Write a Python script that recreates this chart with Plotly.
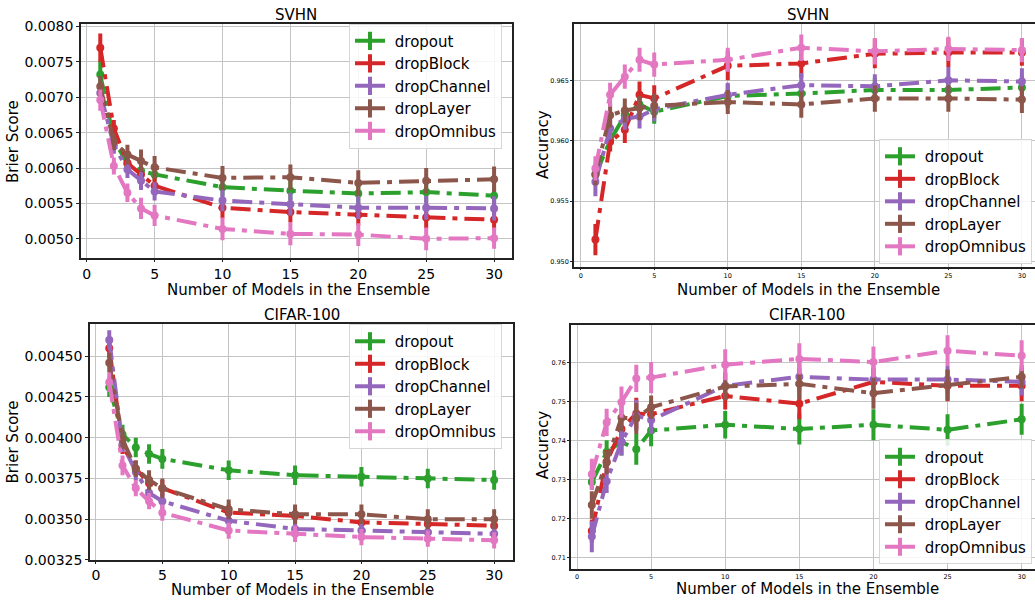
import plotly.graph_objects as go

n_models = [1, 2, 3, 4, 5, 10, 15, 20, 25, 30]
methods = ["dropout", "dropBlock", "dropChannel", "dropLayer", "dropOmnibus"]
colors = ["#2ca02c", "#d62728", "#9467bd", "#8c564b", "#e377c2"]

# SVHN Brier score
svhn_brier = {
    "dropout":     [0.00732, 0.00640, 0.00606, 0.00596, 0.00591, 0.00573, 0.00568, 0.00564, 0.00566, 0.00561],
    "dropBlock":   [0.00770, 0.00656, 0.00607, 0.00591, 0.00575, 0.00544, 0.00538, 0.00534, 0.00530, 0.00527],
    "dropChannel": [0.00706, 0.00632, 0.00598, 0.00582, 0.00567, 0.00554, 0.00549, 0.00544, 0.00544, 0.00543],
    "dropLayer":   [0.00715, 0.00637, 0.00619, 0.00610, 0.00601, 0.00586, 0.00587, 0.00579, 0.00582, 0.00584],
    "dropOmnibus": [0.00696, 0.00603, 0.00565, 0.00543, 0.00533, 0.00514, 0.00507, 0.00506, 0.00500, 0.00501],
}
svhn_brier_err = {
    "dropout":     [0.00020, 0.00010, 0.00008, 0.00010, 0.00010, 0.00013, 0.00014, 0.00014, 0.00014, 0.00013],
    "dropBlock":   [0.00020, 0.00012, 0.00010, 0.00012, 0.00012, 0.00015, 0.00015, 0.00015, 0.00015, 0.00015],
    "dropChannel": [0.00015, 0.00012, 0.00012, 0.00013, 0.00013, 0.00015, 0.00016, 0.00016, 0.00017, 0.00017],
    "dropLayer":   [0.00015, 0.00012, 0.00014, 0.00016, 0.00016, 0.00017, 0.00018, 0.00018, 0.00018, 0.00018],
    "dropOmnibus": [0.00015, 0.00012, 0.00013, 0.00015, 0.00015, 0.00016, 0.00016, 0.00016, 0.00016, 0.00015],
}

# SVHN accuracy
svhn_acc = {
    "dropout":     [0.9572, 0.9600, 0.9621, 0.9630, 0.9624, 0.9637, 0.9639, 0.9642, 0.9642, 0.9644],
    "dropBlock":   [0.9518, 0.9599, 0.9609, 0.9638, 0.9635, 0.9662, 0.9664, 0.9672, 0.9673, 0.9673],
    "dropChannel": [0.9566, 0.9610, 0.9618, 0.9620, 0.9626, 0.9638, 0.9646, 0.9645, 0.9650, 0.9649],
    "dropLayer":   [0.9572, 0.9621, 0.9625, 0.9627, 0.9629, 0.9632, 0.9630, 0.9635, 0.9635, 0.9634],
    "dropOmnibus": [0.9577, 0.9638, 0.9653, 0.9667, 0.9663, 0.9667, 0.9677, 0.9674, 0.9676, 0.9675],
}
svhn_acc_err = {
    "dropout":     [0.0006, 0.0008, 0.0008, 0.0008, 0.0010, 0.0010, 0.0010, 0.0010, 0.0010, 0.0010],
    "dropBlock":   [0.0013, 0.0008, 0.0011, 0.0011, 0.0011, 0.0012, 0.0012, 0.0012, 0.0012, 0.0011],
    "dropChannel": [0.0012, 0.0009, 0.0009, 0.0010, 0.0010, 0.0010, 0.0010, 0.0010, 0.0011, 0.0011],
    "dropLayer":   [0.0009, 0.0010, 0.0010, 0.0010, 0.0010, 0.0010, 0.0011, 0.0011, 0.0011, 0.0011],
    "dropOmnibus": [0.0010, 0.0010, 0.0010, 0.0010, 0.0010, 0.0010, 0.0011, 0.0011, 0.0010, 0.0010],
}

# CIFAR-100 Brier score
cifar_brier = {
    "dropout":     [0.00431, 0.00402, 0.00394, 0.00390, 0.00387, 0.00380, 0.00377, 0.00376, 0.00375, 0.00374],
    "dropBlock":   [0.00455, 0.00395, 0.00381, 0.00372, 0.00369, 0.00354, 0.00352, 0.00348, 0.00347, 0.00346],
    "dropChannel": [0.00460, 0.00396, 0.00379, 0.00366, 0.00361, 0.00349, 0.00344, 0.00343, 0.00342, 0.00341],
    "dropLayer":   [0.00446, 0.00399, 0.00381, 0.00374, 0.00369, 0.00356, 0.00353, 0.00353, 0.00350, 0.00350],
    "dropOmnibus": [0.00434, 0.00383, 0.00369, 0.00361, 0.00354, 0.00343, 0.00341, 0.00339, 0.00338, 0.00337],
}
cifar_brier_err = {
    "dropout":     [0.00006, 0.00006, 0.00006, 0.00006, 0.00006, 0.00006, 0.00006, 0.00006, 0.00006, 0.00006],
    "dropBlock":   [0.00006, 0.00005, 0.00005, 0.00005, 0.00005, 0.00005, 0.00005, 0.00005, 0.00005, 0.00005],
    "dropChannel": [0.00006, 0.00005, 0.00005, 0.00005, 0.00005, 0.00005, 0.00005, 0.00005, 0.00005, 0.00005],
    "dropLayer":   [0.00006, 0.00006, 0.00005, 0.00006, 0.00006, 0.00006, 0.00006, 0.00006, 0.00006, 0.00006],
    "dropOmnibus": [0.00006, 0.00006, 0.00005, 0.00005, 0.00005, 0.00005, 0.00005, 0.00005, 0.00005, 0.00005],
}

# CIFAR-100 accuracy
cifar_acc = {
    "dropout":     [0.7294, 0.7371, 0.7397, 0.7378, 0.7426, 0.7441, 0.7430, 0.7441, 0.7428, 0.7455],
    "dropBlock":   [0.7168, 0.7346, 0.7430, 0.7470, 0.7468, 0.7515, 0.7495, 0.7551, 0.7541, 0.7541],
    "dropChannel": [0.7154, 0.7296, 0.7397, 0.7465, 0.7453, 0.7541, 0.7564, 0.7557, 0.7557, 0.7551],
    "dropLayer":   [0.7235, 0.7344, 0.7459, 0.7457, 0.7486, 0.7539, 0.7546, 0.7522, 0.7543, 0.7564],
    "dropOmnibus": [0.7314, 0.7447, 0.7499, 0.7560, 0.7562, 0.7595, 0.7610, 0.7602, 0.7631, 0.7618],
}
cifar_acc_err = {
    "dropout":     [0.0020, 0.0030, 0.0035, 0.0040, 0.0040, 0.0035, 0.0040, 0.0040, 0.0040, 0.0040],
    "dropBlock":   [0.0030, 0.0030, 0.0030, 0.0040, 0.0035, 0.0035, 0.0040, 0.0035, 0.0040, 0.0040],
    "dropChannel": [0.0040, 0.0030, 0.0035, 0.0040, 0.0035, 0.0035, 0.0035, 0.0035, 0.0035, 0.0035],
    "dropLayer":   [0.0035, 0.0030, 0.0035, 0.0040, 0.0030, 0.0035, 0.0040, 0.0040, 0.0040, 0.0030],
    "dropOmnibus": [0.0040, 0.0035, 0.0040, 0.0035, 0.0040, 0.0040, 0.0040, 0.0040, 0.0040, 0.0040],
}

W, H = 1035, 607
FONT = "DejaVu Sans"
DASH = "20px,7px,5px,7px"

def fx(px):
    return px / W

def fy(py):
    return 1 - py / H

panels = [
    # data, err, xaxis, yaxis, legend, x span (px), y span (px), xrange, yrange, yticks, fmt, tick font
    (svhn_brier, svhn_brier_err, "x", "y", "legend",
     (81, 512), (19, 259), (-0.42, 31.32), (0.004723, 0.00804),
     [0.0050, 0.0055, 0.0060, 0.0065, 0.0070, 0.0075, 0.0080], ".4f", 14),
    (svhn_acc, svhn_acc_err, "x2", "y2", "legend2",
     (574, 1035), (19, 268), (-0.455, 30.89), (0.94951, 0.9697),
     [0.950, 0.955, 0.960, 0.965], ".3f", 6.5),
    (cifar_brier, cifar_brier_err, "x3", "y3", "legend3",
     (90, 513), (326, 567), (-0.45, 31.42), (0.00325, 0.004698),
     [0.00325, 0.00350, 0.00375, 0.00400, 0.00425, 0.00450], ".5f", 14),
    (cifar_acc, cifar_acc_err, "x4", "y4", "legend4",
     (571, 1035), (327, 576), (-0.405, 30.9), (0.70716, 0.7697),
     [0.71, 0.72, 0.73, 0.74, 0.75, 0.76], ".2f", 6.5),
]

legend_pos = {"legend": (349, 19), "legend2": (879, 137), "legend3": (349, 326), "legend4": (879, 444)}

fig = go.Figure()
layout = dict(width=W, height=H, margin=dict(l=0, r=0, t=0, b=0),
              paper_bgcolor="white", plot_bgcolor="white",
              font=dict(family=FONT, color="black"), showlegend=True)

for i, (data, err, xa, ya, lg, dx, dy, xr, yr, yt, yfmt, tfs) in enumerate(panels):
    for m, c in zip(methods, colors):
        fig.add_trace(go.Scatter(
            x=n_models, y=data[m], xaxis=xa, yaxis=ya, mode="lines+markers",
            line=dict(color=c, width=4, dash=DASH),
            marker=dict(color=c, size=8, symbol="circle"),
            error_y=dict(type="data", array=err[m], color=c, thickness=4, width=0),
            showlegend=False, hoverinfo="skip"))
    for m, c in zip(methods, colors):
        fig.add_trace(go.Scatter(
            x=[None], y=[None], xaxis=xa, yaxis=ya, mode="lines+markers", name=" " + m,
            line=dict(color=c, width=4),
            marker=dict(color=c, size=13, symbol="line-ns", line=dict(color=c, width=4)),
            legend=lg, showlegend=True))
    k = "" if i == 0 else str(i + 1)
    small = tfs < 10
    right = dx[1] >= W
    layout["xaxis" + k] = dict(
        domain=[fx(dx[0]), min(1, fx(dx[1]))], range=list(xr), anchor="y" + k,
        tickvals=[0, 5, 10, 15, 20, 25, 30], tickfont=dict(size=tfs, family=FONT, color="black"),
        showgrid=True, gridcolor="#c4c4c4", gridwidth=1, zeroline=False,
        showline=True, linecolor="#222", linewidth=1.6, mirror=True,
        ticks="outside", ticklen=1 if small else 2, tickcolor="#222")
    layout["yaxis" + k] = dict(
        domain=[fy(dy[1]), fy(dy[0])], range=list(yr), anchor="x" + k,
        tickvals=yt, tickformat=yfmt, tickfont=dict(size=tfs, family=FONT, color="black"),
        showgrid=True, gridcolor="#c4c4c4", gridwidth=1, zeroline=False,
        showline=True, linecolor="#222", linewidth=1.6, mirror=(not right),
        ticks="outside", ticklen=2 if small else 3, tickcolor="#222")
    lx, ly = legend_pos[lg]
    layout[lg] = dict(x=fx(lx), y=fy(ly), xanchor="left", yanchor="top",
                      xref="paper", yref="paper",
                      bgcolor="rgba(255,255,255,0.85)", bordercolor="#d6d6d6", borderwidth=1,
                      font=dict(size=15, family=FONT, color="black"),
                      itemwidth=30, tracegroupgap=0)

ann = []
def add_text(txt, px, py, size=15, angle=0):
    ann.append(dict(text=txt, x=fx(px), y=fy(py), xref="paper", yref="paper",
                    xanchor="center", yanchor="middle", showarrow=False, textangle=angle,
                    borderpad=0, font=dict(size=size, family=FONT, color="black")))

add_text("SVHN", 296, 10)
add_text("SVHN", 808, 10)
add_text("CIFAR-100", 302, 317)
add_text("CIFAR-100", 807, 317)
xt = "Number of Models in the Ensemble"
add_text(xt, 298, 291)
add_text(xt, 808, 291)
add_text(xt, 302, 598)
add_text(xt, 807, 597)
add_text("Brier Score", 13, 140, angle=-90)
add_text("Brier Score", 13, 447, angle=-90)
add_text("Accuracy", 543, 143, angle=-90)
add_text("Accuracy", 543, 450, angle=-90)
layout["annotations"] = ann

fig.update_layout(**layout)
# remove the default 8px page margin so the figure starts at the window corner
fig.write_html("out.html", config={"displayModeBar": False},
               post_script="document.body.style.margin='0px';document.body.style.overflow='hidden';")
